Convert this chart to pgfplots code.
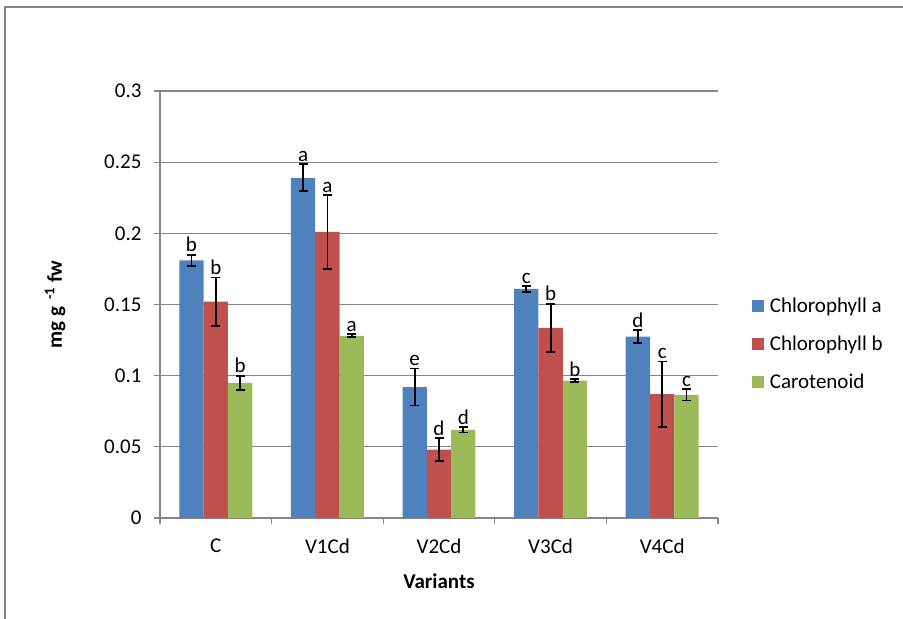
\documentclass[border=0pt]{standalone}
\usepackage{pgfplots}
\pgfplotsset{compat=1.18}
\usepackage{pgfplotstable}
\usepackage{fontspec}
\setmainfont{Carlito}
\definecolor{cA}{HTML}{4F81BD}
\definecolor{cB}{HTML}{C0504D}
\definecolor{cC}{HTML}{9BBB59}
\definecolor{gridg}{HTML}{868686}
\newcommand\cf{\fontsize{21bp}{25bp}\selectfont}

\pgfplotstableread{
x a ea b eb c ec la lb lc
0 0.181 0.004 0.152 0.017 0.095 0.005 b b b
1 0.239 0.0095 0.201 0.026 0.128 0.001 a a a
2 0.092 0.013 0.048 0.008 0.062 0.002 e d d
3 0.161 0.002 0.1335 0.017 0.0965 0.001 c b b
4 0.1275 0.0045 0.087 0.023 0.0865 0.004 d c c
}\datatable

\pgfplotsset{
  errstyle/.style={
    error bars/.cd, y dir=both, y explicit,
    error bar style={black, line width=1.8bp},
    error mark options={black, rotate=90, mark size=4.5bp, line width=1.8bp}
  },
  lblstyle/.style={forget plot, draw=none, mark=none, nodes near coords,
    point meta=explicit symbolic,
    nodes near coords style={anchor=south, font=\cf, inner sep=2.5bp, black}},
  sqlegend/.style={legend image code/.code={\fill[##1] (0bp,-6bp) rectangle (12bp,6bp);}}
}

\begin{document}
\begin{tikzpicture}
\useasboundingbox (0,0) rectangle (903bp,619bp);
\draw[gridg, line width=1.5bp] (5bp,0) -- (5bp,612bp) -- (903bp,612bp);
\begin{axis}[
  at={(160bp,101bp)}, anchor=south west,
  scale only axis, width=558bp, height=427bp,
  xmin=-0.5, xmax=4.5, ymin=0, ymax=0.3,
  axis x line*=bottom, axis y line*=left,
  axis line style={gridg, line width=1.2bp},
  ytick={0,0.05,0.1,0.15,0.2,0.25,0.3},
  yticklabels={0,0.05,0.1,0.15,0.2,0.25,0.3},
  ymajorgrids, grid style={gridg, line width=1.2bp},
  xtick={-0.5,0.5,1.5,2.5,3.5,4.5},
  xticklabels={,,,,,},
  extra x ticks={0,1,2,3,4},
  extra x tick labels={C,V1Cd,V2Cd,V3Cd,V4Cd},
  extra x tick style={major tick length=0pt, tick label style={yshift=-17bp}},
  tick align=outside, major tick length=6bp,
  tick style={gridg, line width=1.2bp},
  tick label style={font=\cf, black},
  yticklabel style={xshift=-9bp},
  xlabel={\textbf{Variants}},
  ylabel={\textbf{mg g\,\,\textsuperscript{-1} fw}},
  xlabel style={at={(axis description cs:0.5,-0.1475)}, anchor=center, font=\cf},
  ylabel style={at={(axis description cs:-0.188,0.5)}, anchor=center, font=\cf},
  legend style={at={(axis description cs:1.055,0.407)}, anchor=west,
    draw=none, fill=none, font=\cf, row sep=16bp,
    nodes={inner sep=3bp}},
  legend cell align=left,
]
\addplot[ybar, bar width=0.218, bar shift=0, fill=cA, draw=none, sqlegend, errstyle]
  table[x expr=\thisrow{x}-0.218, y=a, y error=ea] {\datatable};
\addlegendentry{\hspace{3bp}Chlorophyll a}
\addplot[ybar, bar width=0.218, bar shift=0, fill=cB, draw=none, sqlegend, errstyle]
  table[x=x, y=b, y error=eb] {\datatable};
\addlegendentry{\hspace{3bp}Chlorophyll b}
\addplot[ybar, bar width=0.218, bar shift=0, fill=cC, draw=none, sqlegend, errstyle]
  table[x expr=\thisrow{x}+0.218, y=c, y error=ec] {\datatable};
\addlegendentry{\hspace{3bp}Carotenoid}

\addplot[lblstyle] table[x expr=\thisrow{x}-0.218, y expr=\thisrow{a}+\thisrow{ea}, meta=la] {\datatable};
\addplot[lblstyle] table[x expr=\thisrow{x}, y expr=\thisrow{b}+\thisrow{eb}, meta=lb] {\datatable};
\addplot[lblstyle] table[x expr=\thisrow{x}+0.218, y expr=\thisrow{c}+\thisrow{ec}, meta=lc] {\datatable};
\end{axis}
\end{tikzpicture}
\end{document}
